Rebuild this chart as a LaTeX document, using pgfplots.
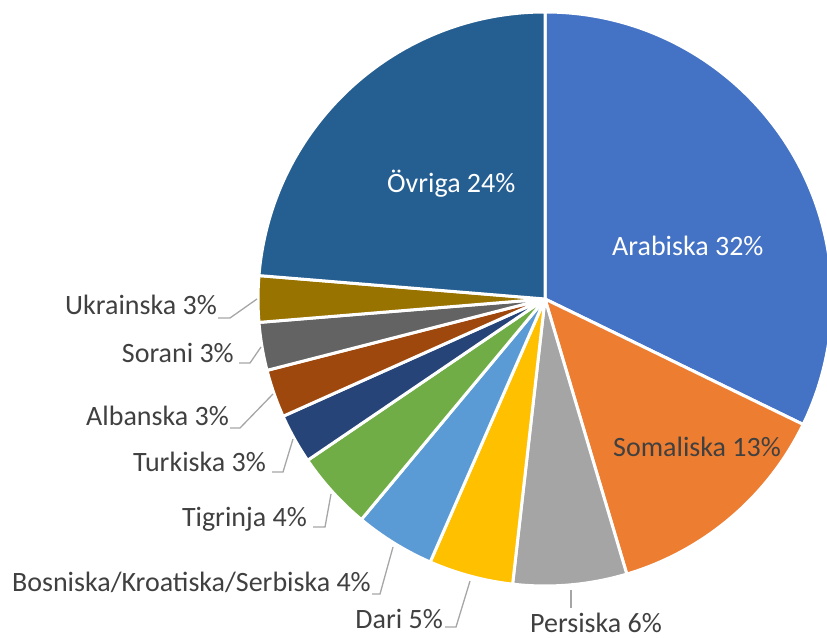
\documentclass[border=0pt]{standalone}
\usepackage{pgfplots}
\pgfplotsset{compat=1.18}
\usepackage{fontspec}
\setmainfont{Carlito}
\definecolor{c1}{HTML}{4472C4}
\definecolor{c2}{HTML}{ED7D31}
\definecolor{c3}{HTML}{A5A5A5}
\definecolor{c4}{HTML}{FFC000}
\definecolor{c5}{HTML}{5B9BD5}
\definecolor{c6}{HTML}{70AD47}
\definecolor{c7}{HTML}{264478}
\definecolor{c8}{HTML}{9E480E}
\definecolor{c9}{HTML}{636363}
\definecolor{c10}{HTML}{997300}
\definecolor{c11}{HTML}{255E91}
\definecolor{txt}{HTML}{404040}
\definecolor{lead}{HTML}{A6A6A6}
\begin{document}
\begin{tikzpicture}
\begin{axis}[hide axis, scale only axis, width=827bp, height=638bp,
  xmin=0, xmax=827, ymin=0, ymax=638, clip=true]
\coordinate (ll) at (rel axis cs:0,0);
\coordinate (ur) at (rel axis cs:1,1);
% share of each language (percent), clockwise from top
\foreach \v/\c [remember=\e as \s (initially 90), evaluate=\v as \e using \s-3.6*\v] in
  {32.2/c1, 13.2/c2, 6.4/c3, 4.75/c4, 4.5/c5, 4.45/c6, 2.8/c7, 2.7/c8, 2.7/c9, 2.6/c10, 23.7/c11}{
  \edef\tmp{\noexpand\fill[\c, draw=white, line width=3bp, line join=round]
    (axis cs:545,339) -- ++(\s:287bp) arc[start angle=\s, end angle=\e, radius=287bp] -- cycle;}
  \tmp
}
\tikzset{lbl/.style={font=\fontsize{28bp}{34bp}\selectfont, inner sep=0pt, text=txt}}
\node[lbl, text=white, anchor=base west] at (axis cs:387,445) {Övriga 24\%};
\node[lbl, text=white, anchor=base west] at (axis cs:612,382) {Arabiska 32\%};
\node[lbl, anchor=base west] at (axis cs:613,181) {Somaliska 13\%};
\node[lbl, anchor=base west] at (axis cs:530,6) {Persiska 6\%};
\node[lbl, anchor=base east] at (axis cs:443,10) {Dari 5\%};
\node[lbl, anchor=base east] at (axis cs:371,46) {Bosniska/Kroatiska/Serbiska 4\%};
\node[lbl, anchor=base east] at (axis cs:307,111) {Tigrinja 4\%};
\node[lbl, anchor=base east] at (axis cs:266,166) {Turkiska 3\%};
\node[lbl, anchor=base east] at (axis cs:229,212) {Albanska 3\%};
\node[lbl, anchor=base east] at (axis cs:234,275) {Sorani 3\%};
\node[lbl, anchor=base east] at (axis cs:217,323) {Ukrainska 3\%};
\tikzset{ld/.style={draw=lead, line width=1.3bp}}
\draw[ld] (axis cs:218,320) -- (axis cs:230,320) -- (axis cs:257,339);
\draw[ld] (axis cs:239,275) -- (axis cs:250,275) -- (axis cs:261,291);
\draw[ld] (axis cs:230,210) -- (axis cs:240,210) -- (axis cs:273,244);
\draw[ld] (axis cs:272,166) -- (axis cs:283,166) -- (axis cs:293,199);
\draw[ld] (axis cs:313,111) -- (axis cs:325,111) -- (axis cs:331,144);
\draw[ld] (axis cs:372,44) -- (axis cs:380,44) -- (axis cs:393,91);
\draw[ld] (axis cs:445,11) -- (axis cs:456,11) -- (axis cs:470,57);
\draw[ld] (axis cs:571,48) -- (axis cs:571,30);
\end{axis}
\pgfresetboundingbox
\useasboundingbox (ll) rectangle (ur);
\end{tikzpicture}
\end{document}
